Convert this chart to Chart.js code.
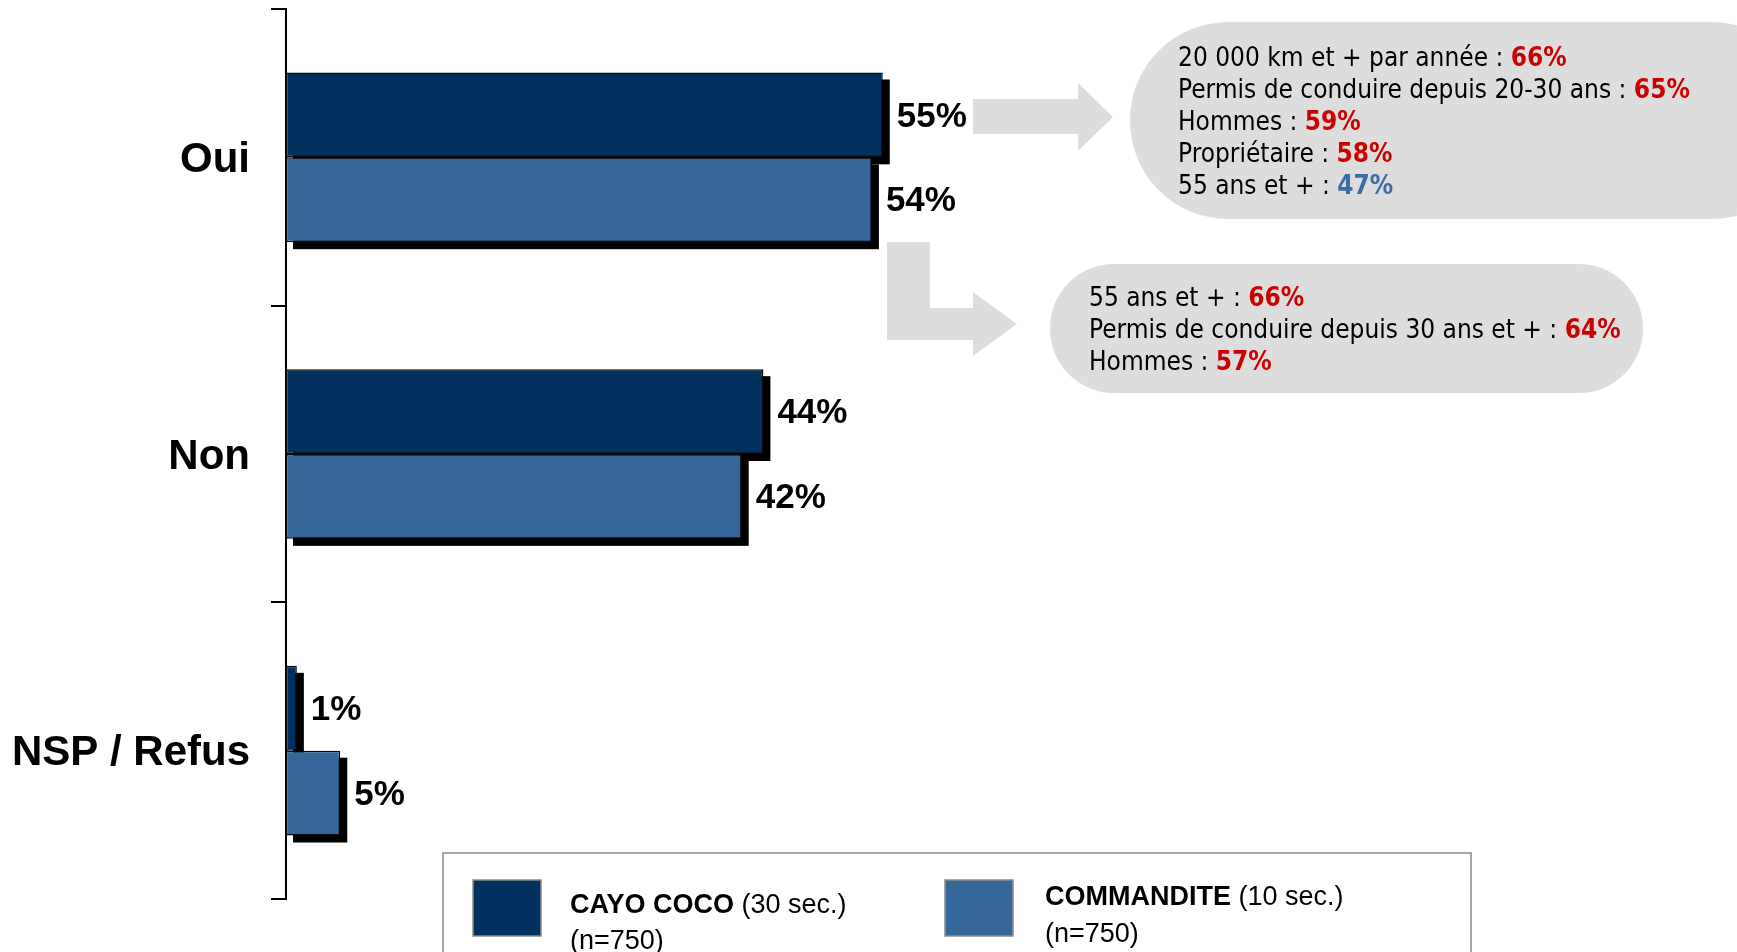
<!DOCTYPE html>
<html><head><meta charset="utf-8">
<script src="https://cdn.jsdelivr.net/npm/chart.js@4.4.1/dist/chart.umd.min.js"></script>
<style>html,body{margin:0;padding:0;background:#fff;overflow:hidden}canvas{display:block}</style>
</head><body>
<canvas id="c" width="1737" height="952"></canvas>
<script>
// ---- data ----
const categories = ['Oui', 'Non', 'NSP / Refus'];
const seriesNames = ['CAYO COCO', 'COMMANDITE'];
const seriesNotes = ['(30 sec.)', '(10 sec.)'];
const seriesSamples = ['(n=750)', '(n=750)'];
const cayoCocoValues = [55, 44, 1];
const commanditeValues = [54, 42, 5];
const callout1Labels = ['20 000 km et + par année : ', 'Permis de conduire depuis 20-30 ans : ', 'Hommes : ', 'Propriétaire : ', '55 ans et + : '];
const callout1Values = ['66%', '65%', '59%', '58%', '47%'];
const callout1Direction = ['higher', 'higher', 'higher', 'higher', 'lower'];
const callout2Labels = ['55 ans et + : ', 'Permis de conduire depuis 30 ans et + : ', 'Hommes : '];
const callout2Values = ['66%', '64%', '57%'];
const callout2Direction = ['higher', 'higher', 'higher'];

// ---- styles ----
const COLORS = ['#00305E', '#35679A'];
const DIR_COLORS = { higher: '#CC0000', lower: '#3B6EA8' };
const BUBBLE = '#DDDDDD';
const SHADOW = 7;
const ARIAL = "'Liberation Sans', Arial, sans-serif";

function calloutFont(ctx, bold) {
  ctx.font = (bold ? 'bold ' : '') + "26px 'DejaVu Sans Condensed'";
  const a = ctx.measureText('Permis de conduire').width;
  ctx.font = (bold ? 'bold ' : '') + "26px 'DejaVu Sans'";
  const b = ctx.measureText('Permis de conduire').width;
  if (Math.abs(a - b) > 1) ctx.font = (bold ? 'bold ' : '') + "26px 'DejaVu Sans Condensed'";
  else ctx.font = (bold ? 'bold ' : '') + "23.4px 'DejaVu Sans'";
}

function stadium(ctx, x, y, w, h, r) {
  ctx.beginPath();
  ctx.moveTo(x + r, y);
  ctx.lineTo(x + w - r, y);
  ctx.arc(x + w - r, y + r, r, -Math.PI / 2, 0);
  ctx.lineTo(x + w, y + h - r);
  ctx.arc(x + w - r, y + h - r, r, 0, Math.PI / 2);
  ctx.lineTo(x + r, y + h);
  ctx.arc(x + r, y + h - r, r, Math.PI / 2, Math.PI);
  ctx.lineTo(x, y + r);
  ctx.arc(x + r, y + r, r, Math.PI, Math.PI * 1.5);
  ctx.closePath();
}

function poly(ctx, pts) {
  ctx.beginPath();
  ctx.moveTo(pts[0][0], pts[0][1]);
  for (let i = 1; i < pts.length; i++) ctx.lineTo(pts[i][0], pts[i][1]);
  ctx.closePath();
  ctx.fill();
}

function drawCallout(ctx, labels, values, dirs, x, y0, lh) {
  ctx.textBaseline = 'middle';
  ctx.textAlign = 'left';
  labels.forEach((lab, i) => {
    const y = y0 + i * lh;
    calloutFont(ctx, false);
    ctx.fillStyle = '#000';
    ctx.fillText(lab, x, y);
    const w = ctx.measureText(lab).width;
    calloutFont(ctx, true);
    ctx.fillStyle = DIR_COLORS[dirs[i]];
    ctx.fillText(values[i], x + w, y);
  });
}

const shadowPlugin = {
  id: 'barShadow',
  beforeDatasetsDraw(chart) {
    const ctx = chart.ctx;
    ctx.save();
    ctx.fillStyle = '#000';
    chart.data.datasets.forEach((ds, i) => {
      chart.getDatasetMeta(i).data.forEach(el => {
        const p = el.getProps(['x', 'y', 'base', 'height'], true);
        const l = Math.min(p.x, p.base), w = Math.abs(p.x - p.base);
        ctx.fillRect(l + SHADOW, p.y - p.height / 2 + SHADOW, w, p.height);
      });
    });
    ctx.restore();
  }
};

const valueLabelPlugin = {
  id: 'valueLabels',
  afterDatasetsDraw(chart) {
    const ctx = chart.ctx;
    ctx.save();
    ctx.font = 'bold 35px ' + ARIAL;
    ctx.fillStyle = '#000';
    ctx.textAlign = 'left';
    ctx.textBaseline = 'middle';
    chart.data.datasets.forEach((ds, i) => {
      chart.getDatasetMeta(i).data.forEach((el, j) => {
        const p = el.getProps(['x', 'y'], true);
        ctx.fillText(ds.data[j] + '%', p.x + 14, p.y + 2);
      });
    });
    ctx.restore();
  }
};

const annotationPlugin = {
  id: 'annotations',
  afterDraw(chart) {
    const ctx = chart.ctx;
    ctx.save();
    // bubbles
    ctx.fillStyle = BUBBLE;
    stadium(ctx, 1130, 22, 680, 197, 98);
    ctx.fill();
    stadium(ctx, 1050, 264, 593, 129, 64);
    ctx.fill();
    // arrows
    poly(ctx, [[973, 99], [1078, 99], [1078, 83], [1113, 117], [1078, 151], [1078, 134], [973, 134]]);
    poly(ctx, [[887, 242], [930, 242], [930, 308], [973, 308], [973, 292], [1017, 324], [973, 356], [973, 340], [887, 340]]);
    // texts
    drawCallout(ctx, callout1Labels, callout1Values, callout1Direction, 1178, 59, 32);
    drawCallout(ctx, callout2Labels, callout2Values, callout2Direction, 1089, 299, 32);

    // legend
    ctx.strokeStyle = '#A6A6A6';
    ctx.lineWidth = 2;
    ctx.strokeRect(443, 853, 1028, 130);
    const sw = [[473, 880], [945, 880]];
    const tx = [[570, 913, 949], [1045, 905, 942]];
    chart.data.datasets.forEach((ds, i) => {
      ctx.fillStyle = ds.backgroundColor;
      ctx.fillRect(sw[i][0], sw[i][1], 68, 56);
      ctx.strokeStyle = '#8C8C8C';
      ctx.lineWidth = 1.5;
      ctx.strokeRect(sw[i][0], sw[i][1], 68, 56);
      ctx.fillStyle = '#000';
      ctx.textBaseline = 'alphabetic';
      ctx.textAlign = 'left';
      ctx.font = 'bold 27px ' + ARIAL;
      ctx.fillText(seriesNames[i], tx[i][0], tx[i][1]);
      const w = ctx.measureText(seriesNames[i] + ' ').width;
      ctx.font = '27px ' + ARIAL;
      ctx.fillText(seriesNotes[i], tx[i][0] + w, tx[i][1]);
      ctx.fillText(seriesSamples[i], tx[i][0], tx[i][2]);
    });
    ctx.restore();
  }
};

new Chart(document.getElementById('c'), {
  type: 'bar',
  data: {
    labels: categories,
    datasets: [
      { label: seriesNames[0], data: cayoCocoValues, backgroundColor: COLORS[0], borderColor: '#0a0a0a', borderWidth: 1.5, borderSkipped: false, categoryPercentage: 0.572, barPercentage: 1 },
      { label: seriesNames[1], data: commanditeValues, backgroundColor: COLORS[1], borderColor: '#0a0a0a', borderWidth: 1.5, borderSkipped: false, categoryPercentage: 0.572, barPercentage: 1 }
    ]
  },
  options: {
    indexAxis: 'y',
    responsive: false,
    animation: false,
    devicePixelRatio: 1,
    layout: { padding: { top: 9, bottom: 53, left: 0, right: 366 } },
    plugins: { legend: { display: false }, tooltip: { enabled: false } },
    scales: {
      x: { display: false, min: 0, max: 100 },
      y: {
        grid: { drawOnChartArea: false, color: '#000', lineWidth: 2, tickLength: 15, offset: true },
        border: { display: true, color: '#000', width: 2 },
        ticks: { color: '#000', font: { family: ARIAL, size: 42, weight: 'bold' }, padding: 21, labelOffset: 3 },
        afterFit(s) { s.width = 286; s.paddingTop = 0; s.paddingBottom = 0; }
      }
    }
  },
  plugins: [shadowPlugin, valueLabelPlugin, annotationPlugin]
});
</script>
</body></html>
